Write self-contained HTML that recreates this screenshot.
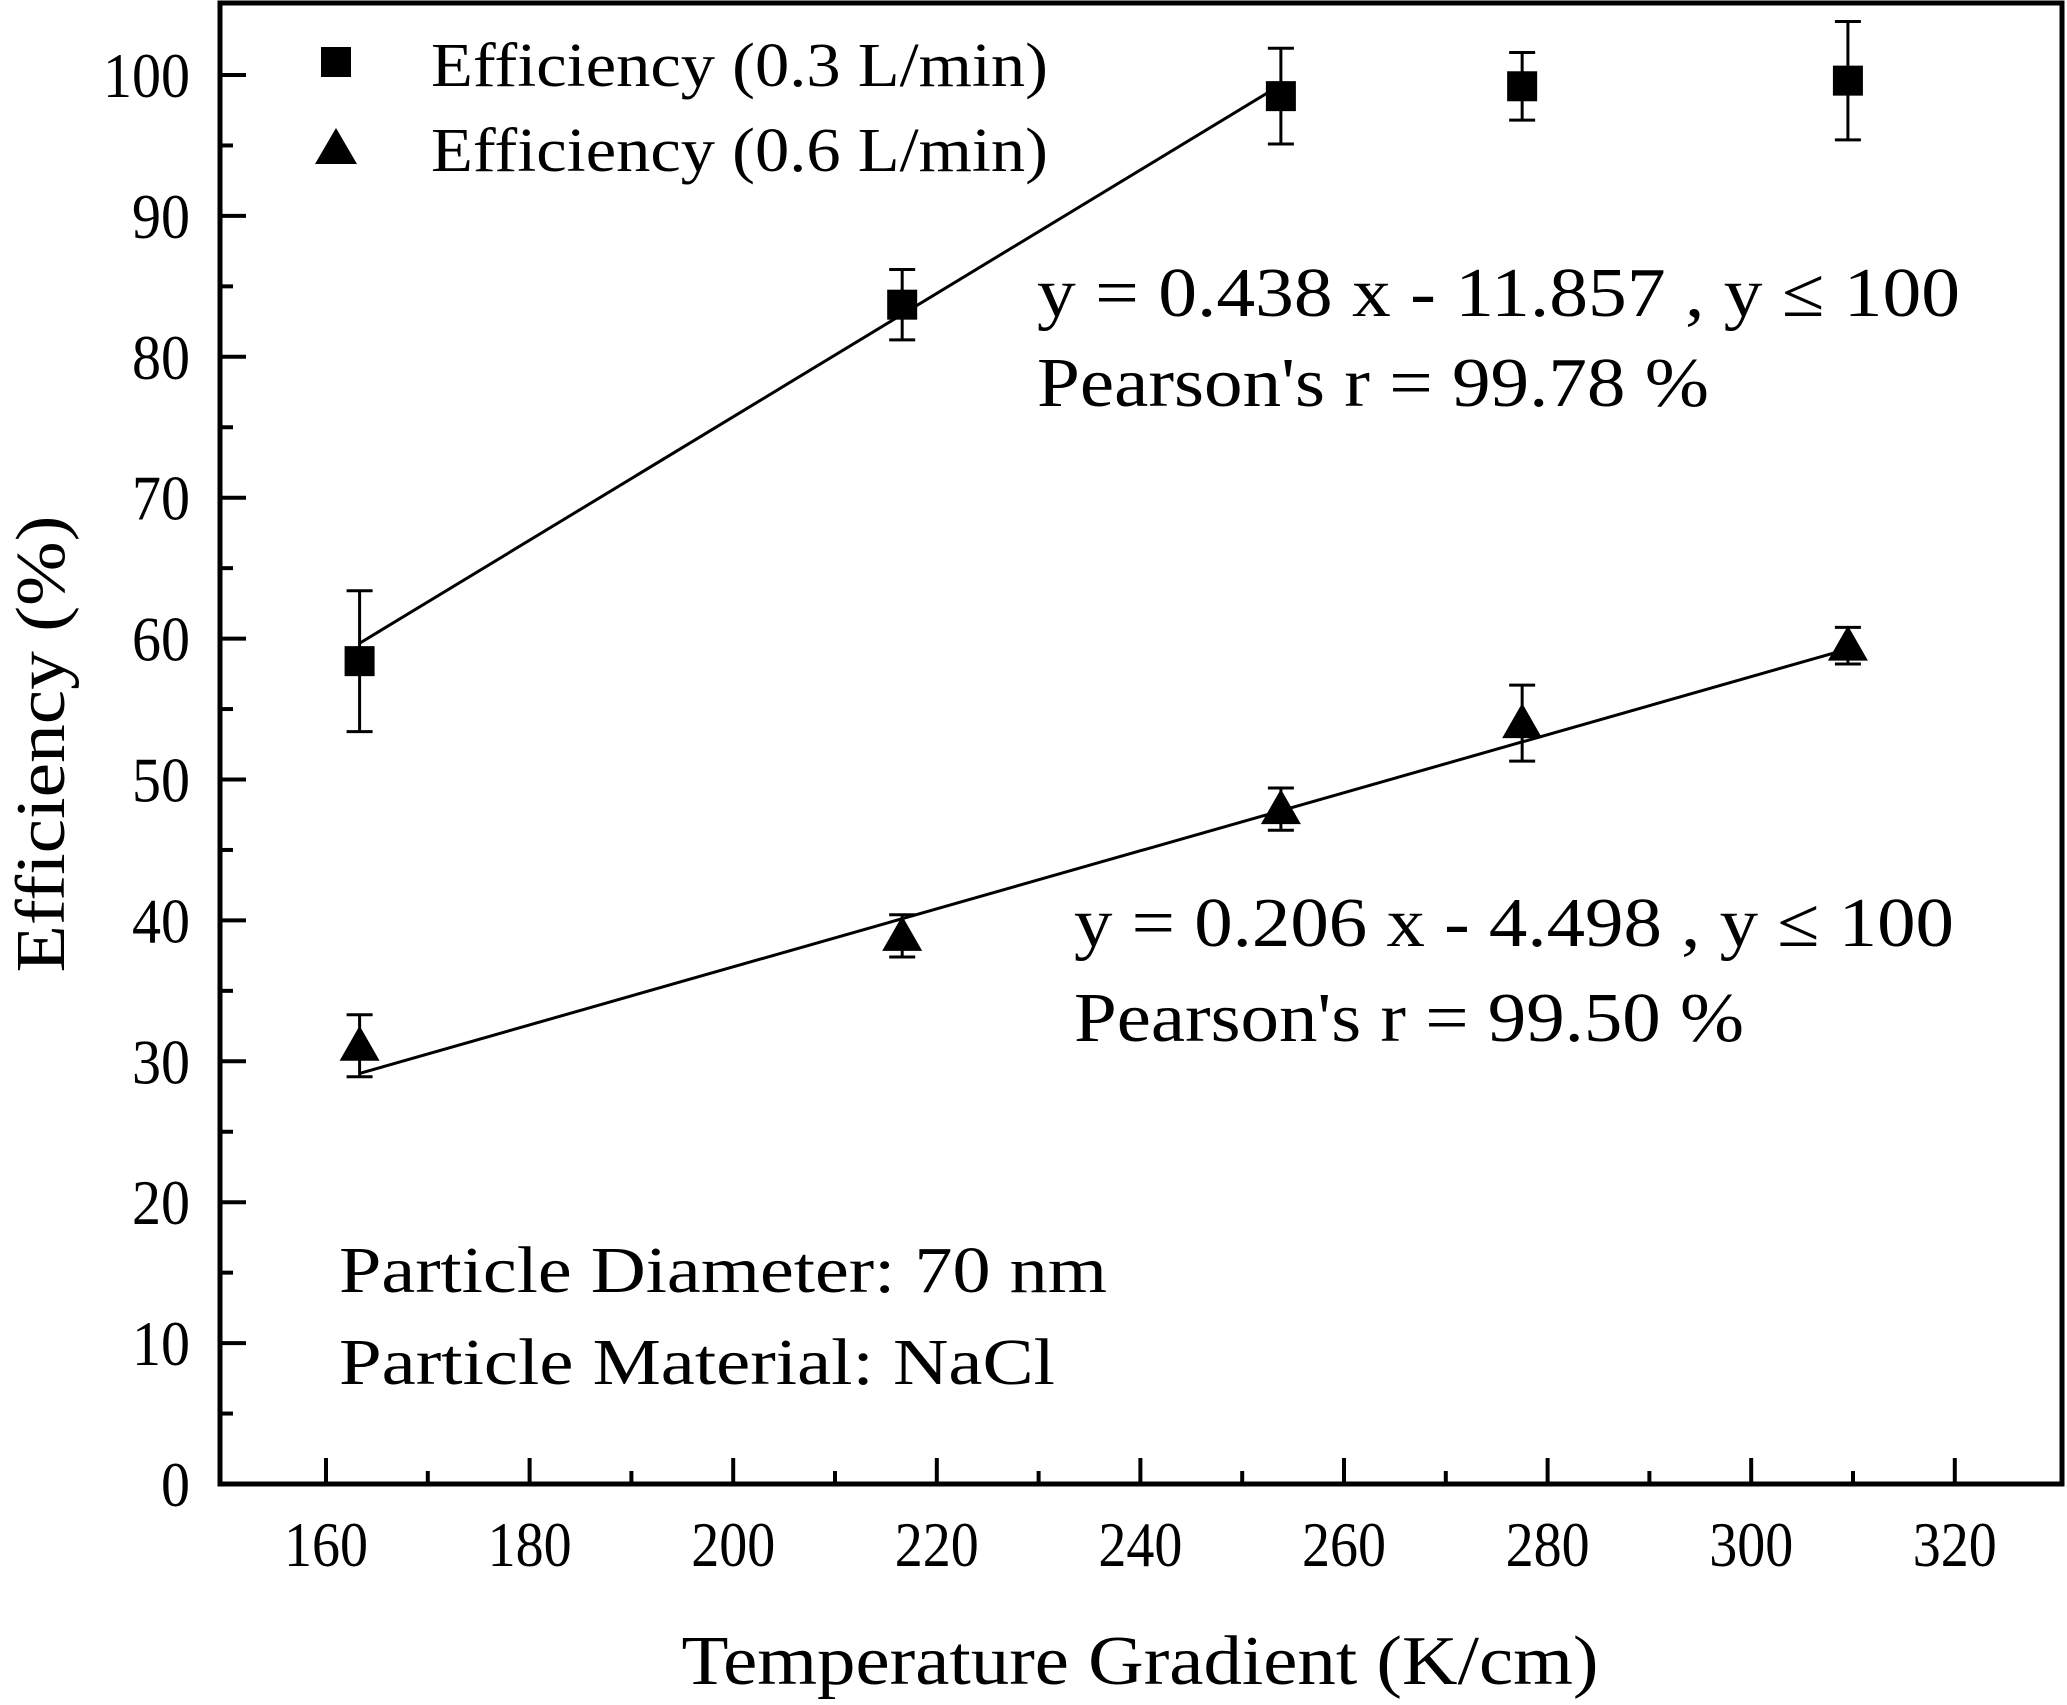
<!DOCTYPE html>
<html><head><meta charset="utf-8"><style>html,body{margin:0;padding:0;background:#fff}svg{display:block}text{font-family:"Liberation Serif","Times New Roman",serif;fill:#000}</style></head>
<body>
<svg id="chart" width="2067" height="1705" viewBox="0 0 2067 1705" xmlns="http://www.w3.org/2000/svg">
<g id="plot"></g>
</svg>
<script>
const xCats = [163.3, 216.6, 253.8, 277.5, 309.5];
const sqVals = [58.4, 83.7, 98.5, 99.2, 99.6];
const sqErr = [5.0, 2.5, 3.4, 2.4, 4.2];
const triVals = [31.1, 38.9, 47.9, 54.0, 59.5];
const triErr = [2.2, 1.5, 1.5, 2.7, 1.3];
const fit1 = {slope: 0.438, intercept: -11.857, x0: 163.3, x1: 253.8};
const fit2 = {slope: 0.206, intercept: -4.498, x0: 163.3, x1: 309.5};
const xTicks = [160, 180, 200, 220, 240, 260, 280, 300, 320];
const yTicks = [0, 10, 20, 30, 40, 50, 60, 70, 80, 90, 100];

const L = 220, R = 2062, T = 3, B = 1484;
const X = v => 326 + (v - 160) * 10.18;
const Y = v => 1484 - v * 14.09;
const NS = 'http://www.w3.org/2000/svg';
const g = document.getElementById('plot');
function mk(tag, attrs, parent) {
  const e = document.createElementNS(NS, tag);
  for (const k in attrs) e.setAttribute(k, attrs[k]);
  (parent || g).appendChild(e);
  return e;
}
function txt(s, x, y, size, len, anchor) {
  const t = mk('text', {x: x, y: y, 'font-size': size});
  if (anchor) t.setAttribute('text-anchor', anchor);
  if (len) { t.setAttribute('textLength', len); t.setAttribute('lengthAdjust', 'spacingAndGlyphs'); }
  t.textContent = s;
  return t;
}
const fr = mk('rect', {x: L, y: T, width: R - L, height: B - T, fill: 'none', stroke: '#000', 'stroke-width': 5});


for (let v = 0; v <= 100; v += 5) {
  const major = v % 10 === 0;
  const tk = mk('line', {x1: L, x2: L + (major ? 26 : 13), y1: Y(v), y2: Y(v), stroke: '#000', 'stroke-width': 4});
  
  
}
yTicks.forEach(v => {
  const s = String(v);
  const t = txt(s, 190, Y(v) + 22, 64, s.length * 29, 'end');
  
  
});
for (let v = 160; v <= 320; v += 10) {
  const major = v % 20 === 0;
  const tk = mk('line', {x1: X(v), x2: X(v), y1: B, y2: B - (major ? 26 : 13), stroke: '#000', 'stroke-width': 4});
  
  
}
xTicks.forEach(v => {
  const t = txt(String(v), X(v), 1566, 64, 84, 'middle');
  
  
});
[fit1, fit2].forEach((f, i) => {
  const l = mk('line', {x1: X(f.x0), y1: Y(f.slope * f.x0 + f.intercept), x2: X(f.x1), y2: Y(f.slope * f.x1 + f.intercept), stroke: '#000', 'stroke-width': 3});
  
  
});
function errbar(x, v, e) {
  const eb = mk('path', {d: `M${X(x)},${Y(v - e)}V${Y(v + e)}M${X(x) - 13},${Y(v - e)}h26M${X(x) - 13},${Y(v + e)}h26`, stroke: '#000', 'stroke-width': 3, fill: 'none'});
  
  
}
xCats.forEach((x, i) => {
  errbar(x, sqVals[i], sqErr[i]);
  const s = mk('rect', {x: X(x) - 15, y: Y(sqVals[i]) - 15, width: 30, height: 30, fill: '#000'});
  
  
  errbar(x, triVals[i], triErr[i]);
  const cx = X(x), cy = Y(triVals[i]);
  const p = mk('polygon', {points: `${cx},${cy - 20} ${cx - 20},${cy + 15} ${cx + 20},${cy + 15}`, fill: '#000'});
  
  
});
const ls = mk('rect', {x: 321, y: 47, width: 30, height: 30, fill: '#000'});


const lt = mk('polygon', {points: '336,128 315,164 357,164', fill: '#000'});


let t;
t = txt('Efficiency (0.3 L/min)', 431, 86, 62, 617);  
t = txt('Efficiency (0.6 L/min)', 431, 171, 62, 617);  
t = txt('y = 0.438 x - 11.857 , y \u2264 100', 1037, 316, 70, 923);  
t = txt("Pearson's r = 99.78 %", 1037, 406, 70, 672);  
t = txt('y = 0.206 x - 4.498 , y \u2264 100', 1074, 946, 70, 880);  
t = txt("Pearson's r = 99.50 %", 1074, 1041, 70, 670);  
t = txt('Particle Diameter: 70 nm', 339, 1292, 66, 768);  
t = txt('Particle Material: NaCl', 339, 1384, 66, 716);  
t = txt('Temperature Gradient (K/cm)', 1140, 1684, 70, 917, 'middle');  
t = txt('Efficiency (%)', 0, 0, 70, 457, 'middle'); t.setAttribute('transform', 'translate(64,744) rotate(-90)');  
</script>
</body></html>
